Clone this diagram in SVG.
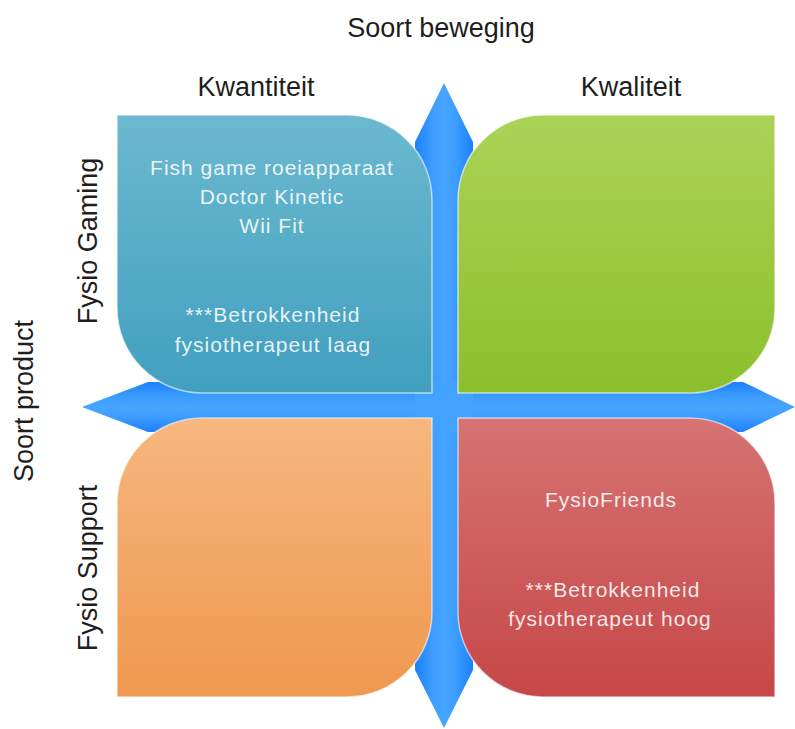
<svg xmlns="http://www.w3.org/2000/svg" width="795" height="729" viewBox="0 0 795 729">
<defs>
<style>
.lbl{font-family:"Liberation Sans",Arial,sans-serif;font-size:27px;fill:#1e1e1e;text-anchor:middle}
.in{font-family:"Liberation Sans",Arial,sans-serif;font-size:21px;fill:#ffffff;fill-opacity:0.88;text-anchor:middle;letter-spacing:1px}
.q{stroke:#ffffff;stroke-opacity:0.6;stroke-width:1.5}
</style>
<linearGradient id="gTeal" x1="0" y1="0" x2="0" y2="1"><stop offset="0" stop-color="#6bb9cf"/><stop offset="1" stop-color="#419fbf"/></linearGradient>
<linearGradient id="gGreen" x1="0" y1="0" x2="0" y2="1"><stop offset="0" stop-color="#aad457"/><stop offset="1" stop-color="#8cbf2c"/></linearGradient>
<linearGradient id="gOrange" x1="0" y1="0" x2="0" y2="1"><stop offset="0" stop-color="#f6b77f"/><stop offset="1" stop-color="#ef984f"/></linearGradient>
<linearGradient id="gRed" x1="0" y1="0" x2="0" y2="1"><stop offset="0" stop-color="#d67373"/><stop offset="1" stop-color="#c64747"/></linearGradient>
<linearGradient id="gV" x1="0" y1="0" x2="1" y2="0"><stop offset="0" stop-color="#1c80fb"/><stop offset="0.3" stop-color="#3d9dff"/><stop offset="0.5" stop-color="#46a5ff"/><stop offset="0.7" stop-color="#3d9dff"/><stop offset="1" stop-color="#1c80fb"/></linearGradient>
<linearGradient id="gH" x1="0" y1="0" x2="0" y2="1"><stop offset="0" stop-color="#1c80fb"/><stop offset="0.3" stop-color="#3d9dff"/><stop offset="0.5" stop-color="#46a5ff"/><stop offset="0.7" stop-color="#3d9dff"/><stop offset="1" stop-color="#1c80fb"/></linearGradient>
</defs>
<rect width="795" height="729" fill="#ffffff"/>
<g id="axes">
<path d="M444,83 L473,142 L473,670 L444,728 L415,670 L415,142 Z" fill="url(#gV)"/>
<path d="M82,407 L148,382 L743,382 L795,407 L743,432 L148,432 Z" fill="url(#gH)"/>
<rect x="415" y="382" width="58" height="50" fill="#42a2ff"/>
</g>
<g id="q-kwantiteit-gaming">
<path class="q" fill="url(#gTeal)" d="M117,115 L347,115 A85,85 0 0 1 432,200 L432,393 L202,393 A85,85 0 0 1 117,308 Z"/>
<text class="in" x="272" y="175">Fish game roeiapparaat</text>
<text class="in" x="272" y="204">Doctor Kinetic</text>
<text class="in" x="272" y="233">Wii Fit</text>
<text class="in" x="273" y="322">***Betrokkenheid</text>
<text class="in" x="273" y="352">fysiotherapeut laag</text>
</g>
<g id="q-kwaliteit-gaming">
<path class="q" fill="url(#gGreen)" d="M543,115 L775,115 L775,308 A85,85 0 0 1 690,393 L458,393 L458,200 A85,85 0 0 1 543,115 Z"/>
</g>
<g id="q-kwantiteit-support">
<path class="q" fill="url(#gOrange)" d="M202,418 L432,418 L432,612 A85,85 0 0 1 347,697 L117,697 L117,503 A85,85 0 0 1 202,418 Z"/>
</g>
<g id="q-kwaliteit-support">
<path class="q" fill="url(#gRed)" d="M458,418 L690,418 A85,85 0 0 1 775,503 L775,697 L543,697 A85,85 0 0 1 458,612 Z"/>
<text class="in" x="611" y="507">FysioFriends</text>
<text class="in" x="613" y="597">***Betrokkenheid</text>
<text class="in" x="610" y="626">fysiotherapeut hoog</text>
</g>
<g id="labels">
<text class="lbl" x="441" y="37">Soort beweging</text>
<text class="lbl" x="256" y="96">Kwantiteit</text>
<text class="lbl" x="631" y="96">Kwaliteit</text>
<text class="lbl" transform="translate(33,401) rotate(-90)">Soort product</text>
<text class="lbl" transform="translate(97,241) rotate(-90)">Fysio Gaming</text>
<text class="lbl" transform="translate(97,568) rotate(-90)">Fysio Support</text>
</g>
</svg>
